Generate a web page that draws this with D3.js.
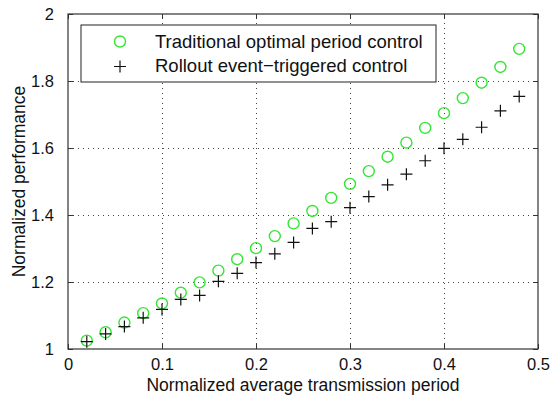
<!DOCTYPE html>
<html>
<head>
<meta charset="utf-8">
<script src="https://cdn.jsdelivr.net/npm/d3@7"></script>
<style>
  body { margin: 0; background: #fff; }
  svg { font-family: "Liberation Sans", Arial, sans-serif; }
</style>
</head>
<body>
<svg id="chart" width="551" height="399"></svg>
<script>
const periods = [0.02, 0.04, 0.06, 0.08, 0.10, 0.12, 0.14, 0.16, 0.18, 0.20, 0.22, 0.24,
  0.26, 0.28, 0.30, 0.32, 0.34, 0.36, 0.38, 0.40, 0.42, 0.44, 0.46, 0.48];
const traditional = [1.025, 1.050, 1.079, 1.107, 1.136, 1.168, 1.199, 1.234, 1.268, 1.301, 1.337, 1.375,
  1.412, 1.451, 1.493, 1.531, 1.574, 1.616, 1.660, 1.704, 1.749, 1.795, 1.842, 1.896];
const rollout = [1.022, 1.045, 1.067, 1.093, 1.118, 1.148, 1.160, 1.202, 1.226, 1.258, 1.284, 1.318,
  1.360, 1.380, 1.422, 1.455, 1.490, 1.522, 1.562, 1.599, 1.626, 1.662, 1.711, 1.754];
const xTicks = [0, 0.1, 0.2, 0.3, 0.4, 0.5];
const yTicks = [1, 1.2, 1.4, 1.6, 1.8, 2];
const legendLabels = ['Traditional optimal period control', 'Rollout event\u2212triggered control'];

const margin = {top: 14, right: 13, bottom: 50, left: 68};
const width = 551, height = 399;

const svg = d3.select('#chart');

const x = d3.scaleLinear().domain([0, 0.5]).range([margin.left, width - margin.right]);
const y = d3.scaleLinear().domain([1, 2]).range([height - margin.bottom, margin.top]);

// dotted grid
const grid = svg.append('g')
  .attr('stroke', '#444')
  .attr('stroke-width', 1)
  .attr('stroke-dasharray', '1,4');
grid.selectAll('.gx').data(xTicks.slice(1, -1)).join('line')
  .attr('x1', d => Math.round(x(d)) + 0.5).attr('x2', d => Math.round(x(d)) + 0.5)
  .attr('y1', y(1)).attr('y2', y(2));
grid.selectAll('.gy').data(yTicks.slice(1, -1)).join('line')
  .attr('y1', d => Math.round(y(d)) + 0.5).attr('y2', d => Math.round(y(d)) + 0.5)
  .attr('x1', x(0)).attr('x2', x(0.5));

// axes, matlab style ticks inside
const tickLen = 5;
svg.append('g')
  .attr('transform', `translate(0,${y(1)})`)
  .call(d3.axisBottom(x).tickValues(xTicks).tickSize(-tickLen).tickPadding(9).tickFormat(d3.format('')))
  .call(g => g.select('.domain').remove());
svg.append('g')
  .attr('transform', `translate(0,${y(2)})`)
  .call(d3.axisTop(x).tickValues(xTicks).tickSize(-tickLen).tickFormat(''))
  .call(g => g.select('.domain').remove());
svg.append('g')
  .attr('transform', `translate(${x(0)},0)`)
  .call(d3.axisLeft(y).tickValues(yTicks).tickSize(-tickLen).tickPadding(14).tickFormat(d3.format('')))
  .call(g => g.select('.domain').remove());
svg.append('g')
  .attr('transform', `translate(${x(0.5)},0)`)
  .call(d3.axisRight(y).tickValues(yTicks).tickSize(-tickLen).tickFormat(''))
  .call(g => g.select('.domain').remove());

svg.selectAll('.tick text')
  .attr('font-size', 16.5)
  .attr('fill', '#111')
  .attr('font-family', '"Liberation Sans", Arial, sans-serif');
svg.selectAll('.tick line').attr('stroke', '#333');

svg.append('rect')
  .attr('x', x(0)).attr('y', y(2))
  .attr('width', x(0.5) - x(0)).attr('height', y(1) - y(2))
  .attr('fill', 'none').attr('stroke', '#333').attr('stroke-width', 1.2);

// markers
const plus = (g, size) => g.append('path')
  .attr('d', `M${-size},0H${size}M0,${-size}V${size}`)
  .attr('stroke', '#111').attr('stroke-width', 1.2).attr('fill', 'none');

svg.append('g').selectAll('circle')
  .data(periods.map((p, i) => [p, traditional[i]]))
  .join('circle')
  .attr('cx', d => x(d[0])).attr('cy', d => y(d[1]))
  .attr('r', 5.5)
  .attr('fill', 'none').attr('stroke', '#33e633').attr('stroke-width', 1.4);

svg.append('g').selectAll('g')
  .data(periods.map((p, i) => [p, rollout[i]]))
  .join('g')
  .attr('transform', d => `translate(${x(d[0])},${y(d[1])})`)
  .each(function() { plus(d3.select(this), 6); });

// legend
const legend = svg.append('g').attr('transform', 'translate(81,25)');
legend.append('rect')
  .attr('width', 355).attr('height', 57)
  .attr('fill', '#fff').attr('stroke', '#222').attr('stroke-width', 1);
legend.append('circle')
  .attr('cx', 39).attr('cy', 16.5).attr('r', 5.5)
  .attr('fill', 'none').attr('stroke', '#33e633').attr('stroke-width', 1.4);
plus(legend.append('g').attr('transform', 'translate(39,41.5)'), 6);
legend.selectAll('text').data(legendLabels).join('text')
  .attr('x', 74).attr('y', (d, i) => 16.5 + i * 24.5)
  .attr('dy', '0.35em')
  .attr('font-size', 18.5).attr('fill', '#111')
  .text(d => d);

// axis titles
svg.append('text')
  .attr('x', x(0.25)).attr('y', 391)
  .attr('text-anchor', 'middle').attr('font-size', 17.5).attr('fill', '#111')
  .text('Normalized average transmission period');
svg.append('text')
  .attr('transform', `translate(25,${(y(1) + y(2)) / 2}) rotate(-90)`)
  .attr('text-anchor', 'middle').attr('font-size', 17.5).attr('fill', '#111')
  .text('Normalized performance');
</script>
</body>
</html>
